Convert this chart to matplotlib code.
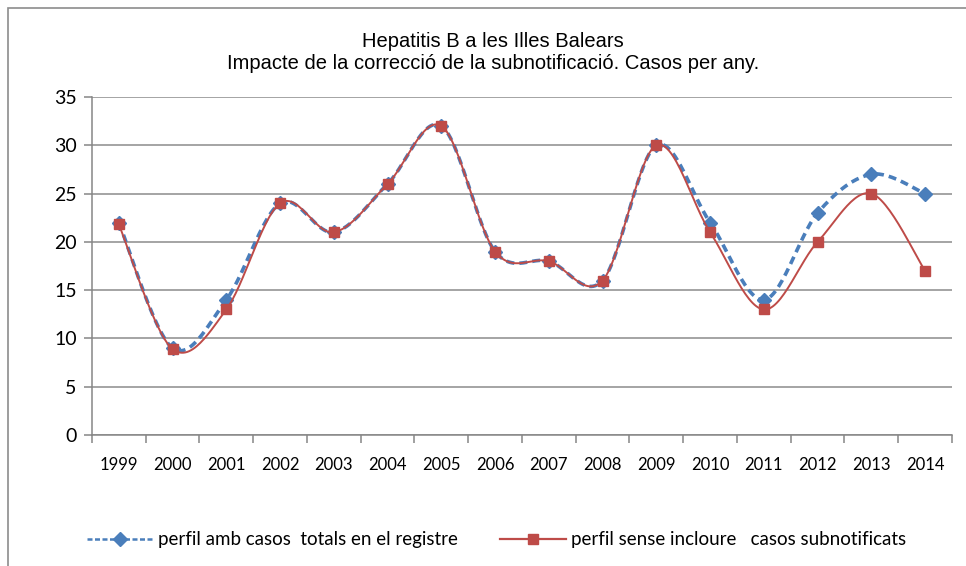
import numpy as np
import matplotlib.pyplot as plt
from matplotlib.patches import Rectangle
from matplotlib.lines import Line2D

anys = ["1999", "2000", "2001", "2002", "2003", "2004", "2005", "2006",
        "2007", "2008", "2009", "2010", "2011", "2012", "2013", "2014"]
casos_totals = [22, 9, 14, 24, 21, 26, 32, 19, 18, 16, 30, 22, 14, 23, 27, 25]
casos_sense = [21.8, 8.9, 13, 24, 21, 26, 32, 19, 18, 16, 30, 21, 13, 20, 25, 17]

titol = "Hepatitis B a les Illes Balears\nImpacte de la correcció de la subnotificació. Casos per any."
nom_blau = "perfil amb casos  totals en el registre"
nom_vermell = "perfil sense incloure   casos subnotificats"


def suavitzar(x, y, n=30):
    # corba de Bezier estil Excel (Catmull-Rom) entre punts
    x = np.asarray(x, float)
    y = np.asarray(y, float)
    px = np.concatenate([[x[0]], x, [x[-1]]])
    py = np.concatenate([[y[0]], y, [y[-1]]])
    xs, ys = [], []
    t = np.linspace(0, 1, n)
    for i in range(1, len(px) - 2):
        p0 = np.array([px[i], py[i]])
        p3 = np.array([px[i + 1], py[i + 1]])
        p1 = p0 + (np.array([px[i + 1], py[i + 1]]) - np.array([px[i - 1], py[i - 1]])) / 6
        p2 = p3 - (np.array([px[i + 2], py[i + 2]]) - np.array([px[i], py[i]])) / 6
        b = ((1 - t) ** 3)[:, None] * p0 + (3 * (1 - t) ** 2 * t)[:, None] * p1 \
            + (3 * (1 - t) * t ** 2)[:, None] * p2 + (t ** 3)[:, None] * p3
        xs.extend(b[:, 0])
        ys.extend(b[:, 1])
    return np.array(xs), np.array(ys)


plt.rcParams['font.family'] = ['Lato', 'DejaVu Sans']

fig = plt.figure(figsize=(9.66, 5.66), dpi=100)
ax = fig.add_axes([0.0952, 0.2314, 0.8903, 0.5972])

blau = "#4A7EBB"
vermell = "#BE4B48"
pos = np.arange(len(anys))

sx, sy = suavitzar(pos, casos_totals)
ax.plot(sx, sy, color=blau, lw=2.6, ls=(0, (2.2, 1.4)), zorder=3)
ax.plot(pos, casos_totals, ls="none", marker="D", ms=7, color=blau, zorder=4)

sx, sy = suavitzar(pos, casos_sense)
ax.plot(sx, sy, color=vermell, lw=1.4, zorder=5)
ax.plot(pos, casos_sense, ls="none", marker="s", ms=6.5, color=vermell, zorder=6)

ax.set_xlim(-0.5, len(anys) - 0.5)
ax.set_ylim(0, 35)
ax.set_yticks(range(0, 36, 5))
ax.yaxis.grid(True, color="#8C8C8C", lw=1.1)
ax.set_axisbelow(True)

ax.set_xticks(pos)
ax.set_xticklabels(anys)
ax.set_xticks(np.arange(-0.5, len(anys), 1), minor=True)
ax.tick_params(axis="x", which="major", length=0, pad=16, labelsize=12)
ax.tick_params(axis="x", which="minor", length=6, color="#868686", width=1.1)
ax.tick_params(axis="y", length=6, color="#868686", width=1.1, labelsize=14, pad=5)

for s in ["top", "right"]:
    ax.spines[s].set_visible(False)
for s in ["left", "bottom"]:
    ax.spines[s].set_color("#868686")
    ax.spines[s].set_linewidth(1.1)

fig.text(0.51, 0.908, titol, ha="center", va="center", fontsize=14.5,
         family=["Liberation Sans Narrow", "Liberation Sans", "DejaVu Sans"], linespacing=1.2)

h_blau = Line2D([], [], color=blau, lw=1.8, ls=(0, (2, 1)), marker="D", ms=7)
h_vermell = Line2D([], [], color=vermell, lw=1.6, marker="s", ms=7)
for h, nom, x0 in [(h_blau, nom_blau, 87 / 966), (h_vermell, nom_vermell, 500 / 966)]:
    fig.legend([h], [nom], loc="center left", bbox_to_anchor=(x0, 0.046),
               frameon=False, fontsize=13.5, handlelength=3.5, handletextpad=0.3,
               borderpad=0, borderaxespad=0)

fig.patches.append(Rectangle((8 / 966, -0.1), 1.2, 1.1 - 8 / 566, transform=fig.transFigure,
                             fill=False, edgecolor="#8C8C8C", lw=1.2))

fig.savefig("out.png", dpi=100)
